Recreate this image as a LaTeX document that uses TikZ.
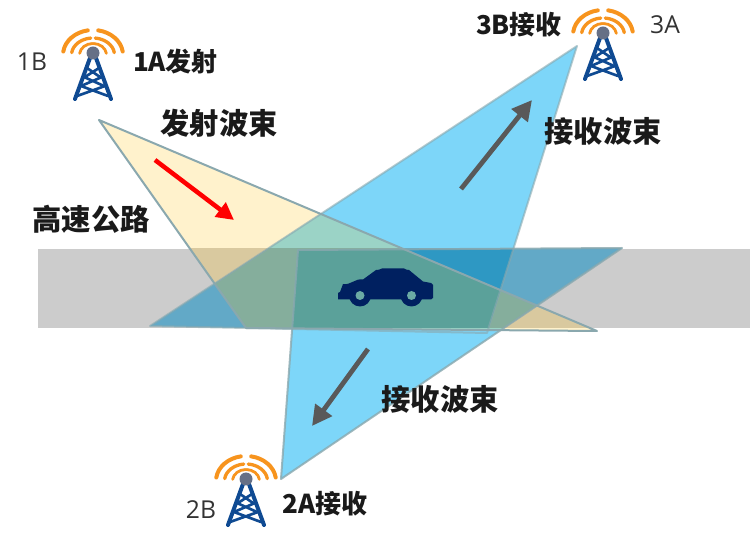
\documentclass[tikz,border=0pt]{standalone}
\usepackage{fontspec}
\newfontfamily\cjkfont{Noto Sans CJK SC}
\newfontfamily\latfont{Open Sans}
\usetikzlibrary{arrows.meta}
\definecolor{bandgray}{HTML}{CCCCCC}
\definecolor{beamyellow}{HTML}{FFF2CC}
\definecolor{beamblue}{HTML}{7DD6F9}
\definecolor{yellowgray}{HTML}{D9C99F}
\definecolor{bluegray}{HTML}{62A9C7}
\definecolor{blueyellow}{HTML}{9BD3C6}
\definecolor{byg}{HTML}{85AE9C}
\definecolor{bbg}{HTML}{2E98C3}
\definecolor{bbyg}{HTML}{5BA19A}
\definecolor{edgecol}{HTML}{8AA8AE}
\definecolor{towerblue}{HTML}{0F4A92}
\definecolor{ringorange}{HTML}{F7941E}
\definecolor{ballgray}{HTML}{667086}
\definecolor{carblue}{HTML}{002060}
\definecolor{arrowgray}{HTML}{595959}
\definecolor{txt}{HTML}{1A1A1A}
\definecolor{thinc}{HTML}{333333}
\def\triY{(99,120)--(597,331)--(246,328)--cycle}
\def\triA{(577,46)--(150,326)--(487,333)--cycle}
\def\triB{(281,479)--(298,250)--(622,248)--cycle}
\def\band{(38,249) rectangle (750,328)}
\tikzset{
  boldlabel/.style={font=\cjkfont\bfseries\fontsize{#1}{#1}\selectfont,text=txt,inner sep=0pt},
  thinlabel/.style={font=\latfont\fontsize{18.5}{19}\selectfont,text=thinc,inner sep=0pt},
  beamedge/.style={draw=edgecol,line width=1.5pt,line join=round},
  bigarrow/.style={draw=arrowgray,line width=3.6pt,-{Triangle[length=15pt,width=15pt]}},
  redarrow/.style={draw=red,line width=3.4pt,-{Triangle[length=13pt,width=13pt]}},
  ring/.style={draw=ringorange,line width=#1,line cap=round},
  leg/.style={draw=towerblue,line width=3pt,line cap=round},
  brace/.style={draw=towerblue,line width=2pt,line cap=round},
  tower/.pic={
    \foreach \rxa/\rya/\gapa/\ringw in {30/25/10/3pt,21.5/17/6/2.5pt,13.5/11.5/2/2.1pt}{
      \draw[ring=\ringw] ({\rxa*cos(188)},{2+\rya*sin(188)}) arc[start angle=188,end angle=270-\gapa,x radius=\rxa,y radius=\rya];
      \draw[ring=\ringw] ({\rxa*cos(352)},{2+\rya*sin(352)}) arc[start angle=352,end angle=270+\gapa,x radius=\rxa,y radius=\rya];
    }
    \draw[leg] (-3,5)--(-18,46);
    \draw[leg] (3,5)--(18,46);
    \draw[brace] (-6,15)--(7,24) (6,15)--(-8,24) (-9,24)--(11,33) (9,24)--(-12,33) (-12,33)--(15,43) (12,33)--(-16,43);
    \fill[ballgray] (0,0) circle[radius=6.5];
  }
}
\begin{document}
\begin{tikzpicture}[x=0.75pt,y=-0.75pt]
\useasboundingbox (0,0) rectangle (750,541);
\fill[bandgray] \band;
\fill[beamyellow] \triY;
\fill[beamblue] \triA;
\fill[beamblue] \triB;
\begin{scope}
  \clip \triY;
  \fill[blueyellow] \triA;
  \fill[blueyellow] \triB;
\end{scope}
\begin{scope}
  \clip \band;
  \fill[yellowgray] \triY;
  \fill[bluegray] \triA;
  \fill[bluegray] \triB;
  \begin{scope}
    \clip \triY;
    \fill[byg] \triA;
    \fill[byg] \triB;
  \end{scope}
  \begin{scope}
    \clip \triA;
    \clip \triB;
    \fill[bbg] \band;
    \clip \triY;
    \fill[bbyg] \band;
  \end{scope}
\end{scope}
\draw[beamedge,draw opacity=.6] \triA;
\draw[beamedge,draw opacity=.8] \triB;
\draw[beamedge] \triY;
% car
\fill[carblue] (338,299.5)--(338,293)--(340,292)--(343,284) to[out=-10,in=170] (363,279.5)--(376,270) to[out=-30,in=180] (382,268.5)--(404,268.5) to[out=0,in=-145] (409,270)--(423,281.5)--(431,283) to[out=0,in=-90] (433,285)--(433,298) to[out=90,in=0] (431,299.5)--cycle;
\fill[carblue] (360,295.5) circle[radius=11] (411.5,295.5) circle[radius=11];
\fill[bbyg!90!white] (360,295.5) circle[radius=4.5] (411.5,295.5) circle[radius=4.5];
% arrows
\coordinate (ra) at (155,160); \coordinate (rb) at (234,220);
\draw[redarrow] (ra)--(rb);
\coordinate (ua) at (461,189); \coordinate (ub) at (532,100);
\draw[bigarrow] (ua)--(ub);
\coordinate (la) at (368,349); \coordinate (lb) at (312,426);
\draw[bigarrow] (la)--(lb);
% towers
\pic (t1) at (93,53) {tower};
\pic (t3) at (603,33) {tower};
\pic (t2) at (246,479) {tower};
% labels
\node[thinlabel] (l1b) at (32,62) {1B};
\node[thinlabel] (l3a) at (665,25) {3A};
\node[thinlabel] (l2b) at (201,510) {2B};
\node[boldlabel=19.5] (l1a) at (175.5,62) {1A发射};
\node[boldlabel=19.5] (l3b) at (519,25) {3B接收};
\node[boldlabel=19.5] (l2a) at (325,504) {2A接收};
\node[boldlabel=22] (n1) at (219,123) {发射波束};
\node[boldlabel=22] (n2) at (91,219) {高速公路};
\node[boldlabel=22] (n3) at (603,131) {接收波束};
\node[boldlabel=22] (n4) at (440,399) {接收波束};
\end{tikzpicture}
\end{document}
